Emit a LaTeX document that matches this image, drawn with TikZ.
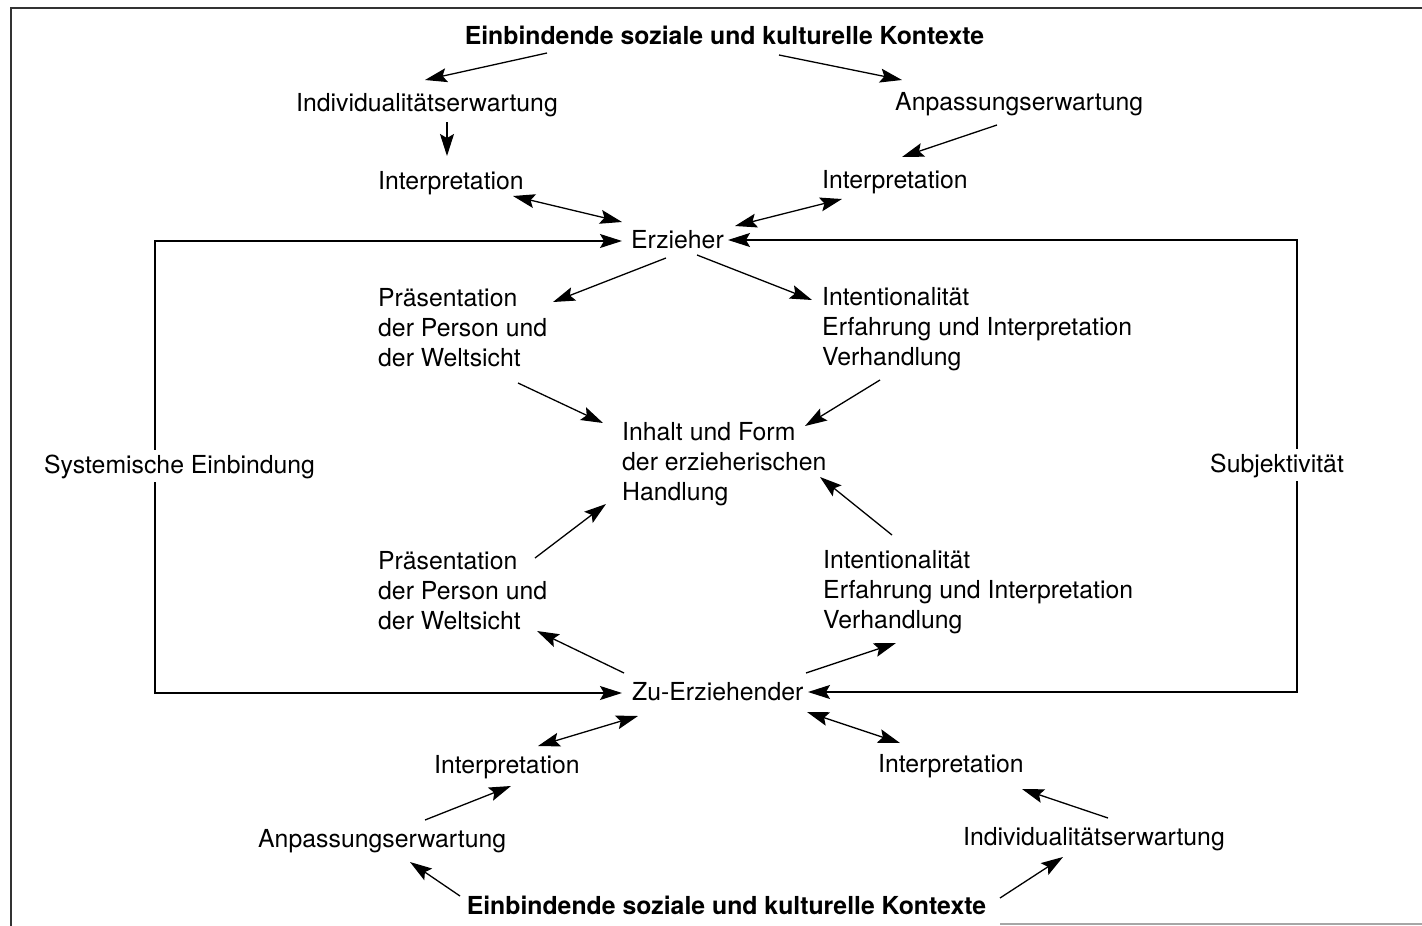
\documentclass[tikz,border=0pt]{standalone}
\usepackage{fontspec}
\setmainfont{TeX Gyre Heros}
\usetikzlibrary{arrows.meta}

\begin{document}
\begin{tikzpicture}[x=1pt, y=-1pt,
    spitze/.tip={Stealth[length=22pt,width=14pt,inset=4pt]},
    every node/.style={inner sep=0pt, font=\fontsize{24.8}{30}\selectfont},
    titel/.style={font=\fontsize{24.8}{30}\selectfont\bfseries, anchor=base},
    wort/.style={anchor=base west},
    block/.style={anchor=north west, align=left},
    etikett/.style={anchor=base west, fill=white, inner sep=4pt},
    pfeil/.style={-spitze, line width=1.3pt},
    doppel/.style={spitze-spitze, line width=1.3pt},
    rahmen/.style={line width=1.3pt, black!80}]

\useasboundingbox (0,0) rectangle (1422,926);

% Marco
\draw[rahmen] (1422,8) -- (11,8) -- (11,926);
\draw[rahmen, black!35] (1000,924) -- (1422,924);

% Nodos arriba
\node[titel] (kontextOben) at (724.5,44) {Einbindende soziale und kulturelle Kontexte};
\node[wort] (indivOben) at (296,111) {Individualitätserwartung};
\node[wort] (anpassOben) at (895,110) {Anpassungserwartung};
\node[wort] (interpOL) at (378,189) {Interpretation};
\node[wort] (interpOR) at (822,188) {Interpretation};
\node[wort] (erzieher) at (631,248) {Erzieher};

% Nodos centro
\node[block] (praesOben) at (378,288) {Präsentation\\der Person und\\der Weltsicht};
\node[block] (intentOben) at (822,287) {Intentionalität\\Erfahrung und Interpretation\\Verhandlung};
\node[block] (inhalt) at (622,422) {Inhalt und Form\\der erzieherischen\\Handlung};
\node[block] (praesUnten) at (378,551) {Präsentation\\der Person und\\der Weltsicht};
\node[block] (intentUnten) at (823,550) {Intentionalität\\Erfahrung und Interpretation\\Verhandlung};

% Nodos abajo
\node[wort] (zuErz) at (632,700) {Zu-Erziehender};
\node[wort] (interpUL) at (434,773) {Interpretation};
\node[wort] (interpUR) at (878,772) {Interpretation};
\node[wort] (anpassUnten) at (258,847) {Anpassungserwartung};
\node[wort] (indivUnten) at (963,845) {Individualitätserwartung};
\node[titel] (kontextUnten) at (726.5,914) {Einbindende soziale und kulturelle Kontexte};

% Lazos
\coordinate (links) at (155,467);
\coordinate (rechts) at (1297,466);
\draw[doppel] ([shift={(-9,-7)}]erzieher.base west) -| (links) |- ([shift={(-10,-7)}]zuErz.base west);
\draw[doppel] ([shift={(97,-8)}]erzieher.base west) -| (rechts) |- ([shift={(176,-8)}]zuErz.base west);
\node[etikett] (systemisch) at (40,473) {Systemische Einbindung};
\node[etikett] (subjekt) at (1206,472) {Subjektivität};

% Flechas arriba
\draw[pfeil] ([shift={(-177.5,9)}]kontextOben.base) -- ([shift={(129,-31)}]indivOben.base west);
\draw[pfeil] ([shift={(54.5,11)}]kontextOben.base) -- ([shift={(7,-30)}]anpassOben.base west);
\draw[pfeil] ([shift={(151,11)}]indivOben.base west) -- ([shift={(69,-33)}]interpOL.base west);
\draw[pfeil] ([shift={(102,15)}]anpassOben.base west) -- ([shift={(80,-31)}]interpOR.base west);
\draw[doppel] ([shift={(135,7)}]interpOL.base west) -- ([shift={(-9,-26)}]erzieher.base west);
\draw[doppel] ([shift={(20,11)}]interpOR.base west) -- ([shift={(104,-22)}]erzieher.base west);

% Flechas centro
\draw[pfeil] ([shift={(35,10)}]erzieher.base west) -- ([shift={(175,14)}]praesOben.north west);
\draw[pfeil] ([shift={(66,7)}]erzieher.base west) -- ([shift={(-10,13)}]intentOben.north west);
\draw[pfeil] ([shift={(140,95)}]praesOben.north west) -- ([shift={(-19,1)}]inhalt.north west);
\draw[pfeil] ([shift={(58,93)}]intentOben.north west) -- ([shift={(183,4)}]inhalt.north west);
\draw[pfeil] ([shift={(157,7)}]praesUnten.north west) -- ([shift={(-16,82)}]inhalt.north west);
\draw[pfeil] ([shift={(69,-15)}]intentUnten.north west) -- ([shift={(198,55)}]inhalt.north west);
\draw[pfeil] ([shift={(-8,-27)}]zuErz.base west) -- ([shift={(159,80)}]praesUnten.north west);
\draw[pfeil] ([shift={(174,-27)}]zuErz.base west) -- ([shift={(73,93)}]intentUnten.north west);

% Flechas abajo
\draw[doppel] ([shift={(6,16)}]zuErz.base west) -- ([shift={(104,-27)}]interpUL.base west);
\draw[doppel] ([shift={(175,12)}]zuErz.base west) -- ([shift={(22,-29)}]interpUR.base west);
\draw[pfeil] ([shift={(167,-27)}]anpassUnten.base west) -- ([shift={(77,13)}]interpUL.base west);
\draw[pfeil] ([shift={(145,-27)}]indivUnten.base west) -- ([shift={(144,17)}]interpUR.base west);
\draw[pfeil] ([shift={(-266.5,-18)}]kontextUnten.base) -- ([shift={(152,15)}]anpassUnten.base west);
\draw[pfeil] ([shift={(273.5,-16)}]kontextUnten.base) -- ([shift={(100,12)}]indivUnten.base west);

\end{tikzpicture}
\end{document}
